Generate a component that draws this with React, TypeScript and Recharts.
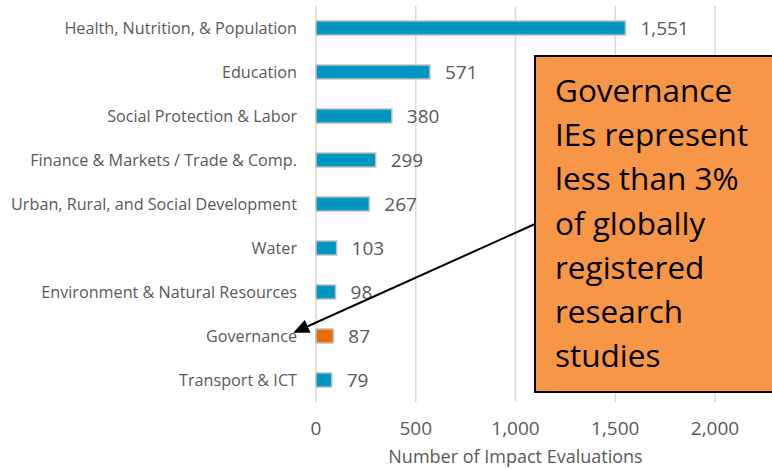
import React from "react";
import {
  BarChart,
  Bar,
  XAxis,
  YAxis,
  CartesianGrid,
  Cell,
  LabelList,
} from "recharts";

const sectors = [
  "Health, Nutrition, & Population",
  "Education",
  "Social Protection & Labor",
  "Finance & Markets / Trade & Comp.",
  "Urban, Rural, and Social Development",
  "Water",
  "Environment & Natural Resources",
  "Governance",
  "Transport & ICT",
];
const evaluations = [1551, 571, 380, 299, 267, 103, 98, 87, 79];
const xTicks = [0, 500, 1000, 1500, 2000];
const calloutLines = [
  "Governance",
  "IEs represent",
  "less than 3%",
  "of globally",
  "registered",
  "research",
  "studies",
];

const FONT = "'Open Sans', 'Noto Sans', sans-serif";
const TEXT = "#595959";
const BLUE = "#0096C2";
const ORANGE = "#E46C0A";

const chartData = sectors.map((name, i) => ({ name, value: evaluations[i] }));

const fmt = (v: number) => v.toLocaleString("en-US");

export default function App() {
  return (
    <div
      style={{
        position: "absolute",
        left: 0,
        top: 0,
        width: 772,
        height: 469,
        overflow: "hidden",
        background: "#fff",
        fontFamily: FONT,
      }}
    >
      <BarChart
        width={772}
        height={469}
        data={chartData}
        layout="vertical"
        margin={{ top: 6, right: 57, left: 0, bottom: 0 }}
        barCategoryGap={0}
      >
        <CartesianGrid horizontal={false} stroke="#d9d9d9" strokeWidth={1.5} />
        <XAxis
          type="number"
          domain={[0, 2000]}
          ticks={xTicks}
          tickFormatter={fmt}
          axisLine={false}
          tickLine={false}
          tickSize={0}
          tickMargin={20}
          height={67}
          tick={{ fill: TEXT, fontSize: 19, fontFamily: FONT }}
          label={{
            value: "Number of Impact Evaluations",
            position: "insideBottom",
            offset: 6,
            fill: TEXT,
            fontSize: 18,
            fontFamily: FONT,
          }}
        />
        <YAxis
          type="category"
          dataKey="name"
          width={316}
          axisLine={false}
          tickLine={false}
          tickSize={0}
          tickMargin={19}
          interval={0}
          tick={{ fill: TEXT, fontSize: 16.2, fontFamily: FONT }}
        />
        <Bar
          dataKey="value"
          barSize={14}
          stroke="#bfbfbf"
          strokeWidth={1.5}
          isAnimationActive={false}
        >
          {chartData.map((d) => (
            <Cell key={d.name} fill={d.name === "Governance" ? ORANGE : BLUE} />
          ))}
          <LabelList
            dataKey="value"
            position="right"
            offset={15}
            formatter={(v: number) => fmt(v)}
            fill={TEXT}
            fontSize={19}
            fontFamily={FONT}
          />
        </Bar>
      </BarChart>
      <svg
        width={772}
        height={469}
        style={{ position: "absolute", left: 0, top: 0, pointerEvents: "none" }}
      >
        <defs>
          <marker
            id="arrowHead"
            markerWidth="8"
            markerHeight="7"
            refX="7"
            refY="3.5"
            orient="auto"
            markerUnits="strokeWidth"
          >
            <polygon points="0 0, 8 3.5, 0 7" fill="#000" />
          </marker>
        </defs>
        <rect
          x={535}
          y={56}
          width={260}
          height={336}
          fill="#F79646"
          stroke="#000"
          strokeWidth={2}
        />
        {calloutLines.map((line, i) => (
          <text
            key={line}
            x={555}
            y={102 + i * 44.2}
            fontSize={31.5}
            fontFamily={FONT}
            fill="#000"
          >
            {line}
          </text>
        ))}
        <line
          x1={535}
          y1={224}
          x2={295}
          y2={332}
          stroke="#000"
          strokeWidth={2}
          markerEnd="url(#arrowHead)"
        />
      </svg>
    </div>
  );
}
